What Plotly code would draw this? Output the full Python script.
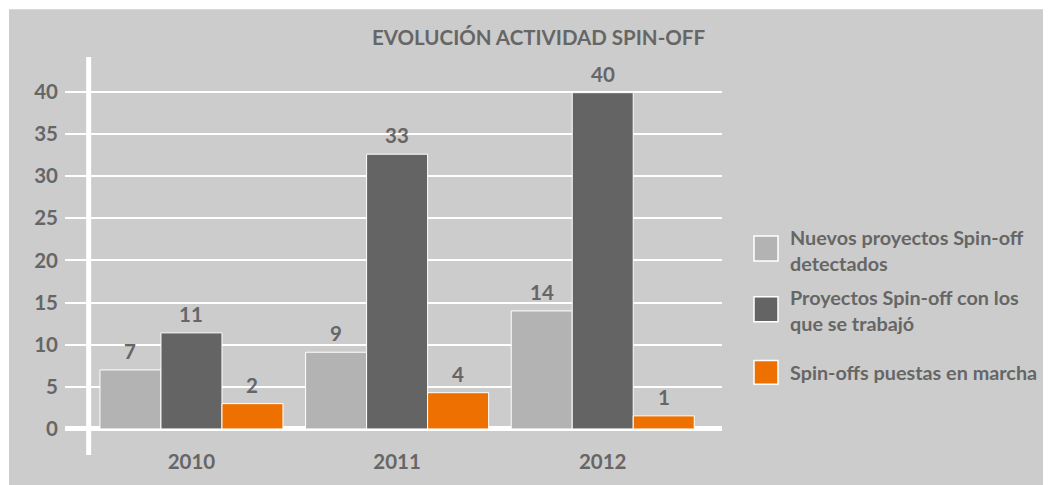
import plotly.graph_objects as go

# ---- data ----
categories = ["2010", "2011", "2012"]
series_names = ["Nuevos proyectos Spin-off<br>detectados",
                "Proyectos Spin-off con los<br>que se trabajó",
                "Spin-offs puestas en marcha"]
nuevos = [7.0, 9.1, 14.0]
trabajados = [11.4, 32.6, 39.9]
puestas = [3.0, 4.3, 1.55]
label_nuevos = ["7", "9", "14"]
label_trabajados = ["11", "33", "40"]
label_puestas = ["2", "4", "1"]
y_ticks = [0, 5, 10, 15, 20, 25, 30, 35, 40]
title_text = "EVOLUCIÓN ACTIVIDAD SPIN-OFF"

series_values = [nuevos, trabajados, puestas]
series_labels = [label_nuevos, label_trabajados, label_puestas]
colors = ["#b3b3b3", "#646464", "#ed7000"]

OFF = 8                      # default page body margin
W, H = 1051 - OFF, 485 - OFF
L, R, T, B = 65 - OFF, 329, 57 - OFF, 28
PW, PH = W - L - R, H - T - B
TXT = "#666666"
FONT = "Lato"
BARGAP = 0.11

def px(xp):
    return (xp - OFF - L) / PW

def py(yp):
    return (OFF + H - B - yp) / PH

xs = list(range(len(categories)))
fig = go.Figure()
for name, vals, col in zip(series_names, series_values, colors):
    fig.add_trace(go.Bar(x=xs, y=vals, name=name, marker=dict(color=col, line=dict(color="white", width=1)),
                         showlegend=False, hoverinfo="skip"))

annotations = []
w = (1 - BARGAP) / 3
for j, (vals, labs) in enumerate(zip(series_values, series_labels)):
    for i, (v, lab) in enumerate(zip(vals, labs)):
        annotations.append(dict(x=i + (j - 1) * w, y=v, xref="x", yref="y", text=lab, showarrow=False,
                                yanchor="bottom", yshift=5,
                                font=dict(family=FONT, size=20.5, color=TXT, weight="bold")))

# title
annotations.append(dict(x=px(538.5), y=py(37), xref="paper", yref="paper", text=title_text, showarrow=False,
                        xanchor="center", yanchor="middle",
                        font=dict(family=FONT, size=20.5, color=TXT, weight="bold")))

shapes = [
    dict(type="rect", xref="paper", yref="paper", x0=px(9), x1=px(1060), y0=py(9), y1=py(495),
         fillcolor="#cccccc", line=dict(width=0), layer="below"),
    dict(type="line", xref="x", yref="paper", x0=-0.5, x1=-0.5, y0=0, y1=1,
         line=dict(color="white", width=5), layer="above"),
]

# manual legend
leg_boxes = [(237, 262), (298, 323), (362, 386)]
leg_text_y = [251, 311, 374]
for (y0, y1), ly, name, col in zip(leg_boxes, leg_text_y, series_names, colors):
    shapes.append(dict(type="rect", xref="paper", yref="paper", x0=px(754), x1=px(778), y0=py(y1), y1=py(y0),
                       fillcolor=col, line=dict(color="white", width=1.5)))
    annotations.append(dict(x=px(788), y=py(ly), xref="paper", yref="paper", text=name, showarrow=False,
                            xanchor="left", yanchor="middle", align="left",
                            font=dict(family=FONT, size=19.8, color=TXT, weight="bold")))

y_lo = -((OFF + H - B) - 430.8) / 8.47
y_hi = (430.8 - (OFF + T)) / 8.47

fig.update_layout(
    width=W, height=H,
    margin=dict(l=L, r=R, t=T, b=B, pad=0),
    paper_bgcolor="white", plot_bgcolor="rgba(0,0,0,0)",
    barmode="group", bargap=BARGAP, bargroupgap=0,
    showlegend=False,
    annotations=annotations, shapes=shapes,
    xaxis=dict(range=[-0.615, 2.58], tickvals=xs, ticktext=categories, showgrid=False, zeroline=False,
               showline=False, ticks="", ticklabelstandoff=-8,
               tickfont=dict(family=FONT, size=20.5, color=TXT, weight="bold"), fixedrange=True),
    yaxis=dict(range=[y_lo, y_hi], tickvals=y_ticks, ticktext=[str(t) for t in y_ticks],
               showgrid=True, gridcolor="white", gridwidth=2,
               zeroline=True, zerolinecolor="white", zerolinewidth=5,
               showline=False, ticks="", ticklabelstandoff=6,
               tickfont=dict(family=FONT, size=20.5, color=TXT, weight="bold"), fixedrange=True),
)

fig.write_html("out.html")
